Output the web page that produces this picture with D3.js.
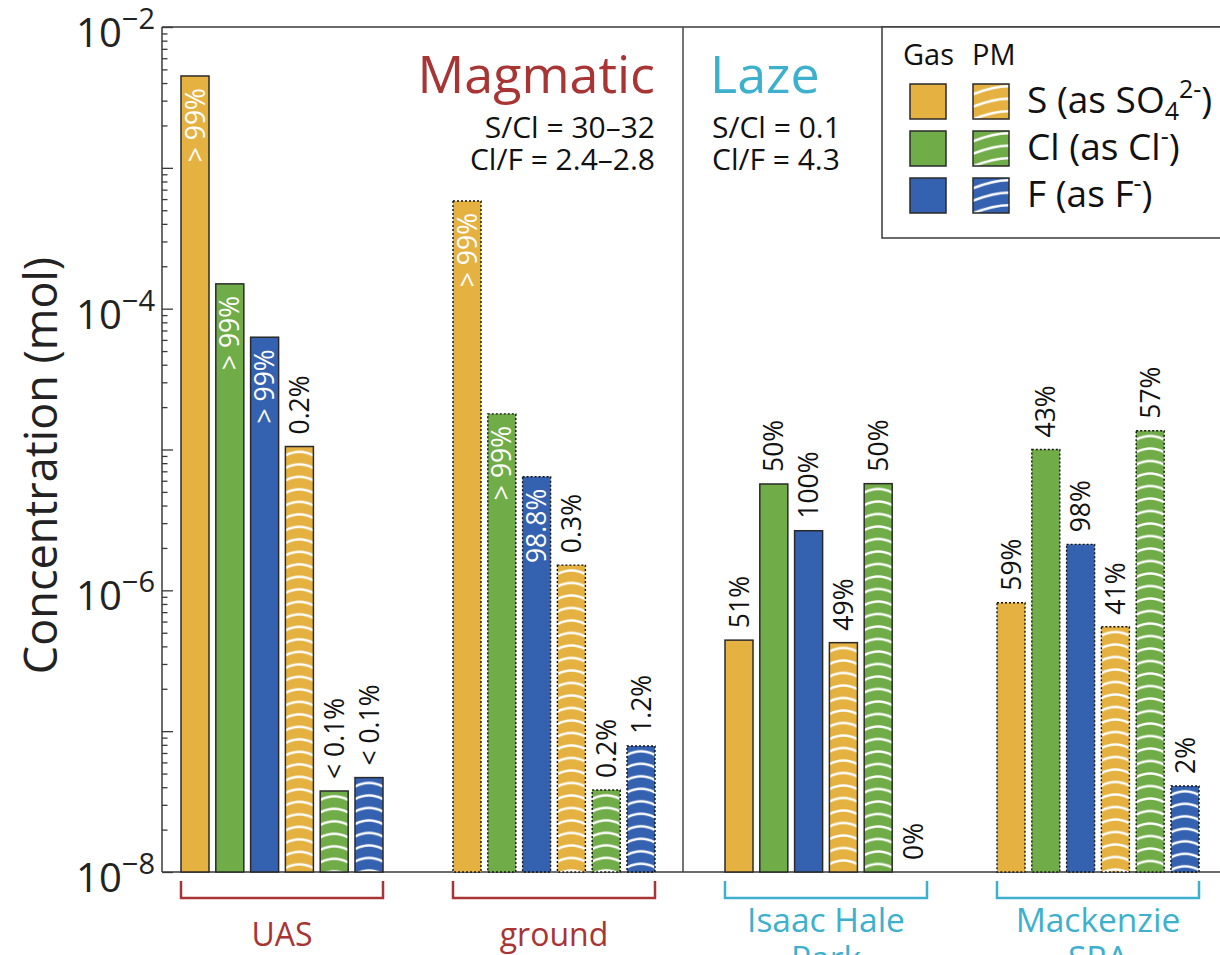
<!DOCTYPE html>
<html><head><meta charset="utf-8">
<script src="https://cdn.jsdelivr.net/npm/d3@7"></script>
<style>
body{margin:0;background:#fff;overflow:hidden;}
svg{display:block;font-family:'Open Sans',sans-serif;}
</style>
</head><body><svg id="c" width="1220" height="955"></svg>
<script>
// ---------- data ----------
const groups = ["UAS", "ground", "Isaac Hale Park", "Mackenzie SRA"];
const groupLines = [["UAS"], ["ground"], ["Isaac Hale", "Park"], ["Mackenzie", "SRA"]];
const groupSource = ["Magmatic", "Magmatic", "Laze", "Laze"];
const groupBorder = ["solid", "dotted", "solid", "dotted"];
const series = ["gasS", "gasCl", "gasF", "pmS", "pmCl", "pmF"];
const seriesPhase = ["gas", "gas", "gas", "pm", "pm", "pm"];
const seriesElement = ["S", "Cl", "F", "S", "Cl", "F"];

const valuesUAS       = [4.49e-3, 1.50e-4, 6.27e-5, 1.05e-5, 3.76e-8, 4.68e-8];
const valuesGround    = [5.82e-4, 1.79e-5, 6.41e-6, 1.51e-6, 3.82e-8, 7.85e-8];
const valuesIsaac     = [4.43e-7, 5.69e-6, 2.65e-6, 4.25e-7, 5.72e-6, 0];
const valuesMackenzie = [8.17e-7, 1.00e-5, 2.12e-6, 5.52e-7, 1.36e-5, 4.08e-8];

const labelsUAS       = ["> 99%", "> 99%", "> 99%", "0.2%", "< 0.1%", "< 0.1%"];
const labelsGround    = ["> 99%", "> 99%", "98.8%", "0.3%", "0.2%", "1.2%"];
const labelsIsaac     = ["51%", "50%", "100%", "49%", "50%", "0%"];
const labelsMackenzie = ["59%", "43%", "98%", "41%", "57%", "2%"];

const insideUAS       = [true, true, true, false, false, false];
const insideGround    = [true, true, true, false, false, false];
const insideIsaac     = [false, false, false, false, false, false];
const insideMackenzie = [false, false, false, false, false, false];

const yDomain = [1e-8, 1e-2];
const yLabelExps = [-8, -6, -4, -2];
const yLabelTexts = ["−8", "−6", "−4", "−2"];

const sourceTitles = ["Magmatic", "Laze"];
const sourceRatios = [["S/Cl = 30–32", "Cl/F = 2.4–2.8"], ["S/Cl = 0.1", "Cl/F = 4.3"]];

const legendRows = ["S", "Cl", "F"];

// ---------- styles ----------
const colors = {S: "#E5B242", Cl: "#70AC47", F: "#3562B0"};
const sourceColor = {Magmatic: "#A83434", Laze: "#3DB0CE"};

const allValues = [valuesUAS, valuesGround, valuesIsaac, valuesMackenzie];
const allLabels = [labelsUAS, labelsGround, labelsIsaac, labelsMackenzie];
const allInside = [insideUAS, insideGround, insideIsaac, insideMackenzie];

const data = groups.flatMap((g, gi) => series.map((s, si) => ({
  group: g, gi, series: s, si,
  value: allValues[gi][si], label: allLabels[gi][si], inside: allInside[gi][si],
  phase: seriesPhase[si], el: seriesElement[si], border: groupBorder[gi]
})));

// ---------- layout ----------
const svg = d3.select("#c");
const L = 162, T = 27, B = 872, R = 1240;

const y = d3.scaleLog().domain(yDomain).range([B, T]);
const x0 = d3.scaleBand().domain(groups).range([181, 1199]).paddingInner(70 / 272).paddingOuter(0);
const x1 = d3.scaleBand().domain(series).range([0, x0.bandwidth()]).paddingInner(0.195).paddingOuter(0);
const bw = x1.bandwidth();

const defs = svg.append("defs");

// frame
const frame = svg.append("g").attr("stroke", "#3a3a3a").attr("stroke-width", 1.5);
frame.append("line").attr("x1", L).attr("x2", R).attr("y1", T).attr("y2", T);
frame.append("line").attr("x1", L).attr("x2", R).attr("y1", B).attr("y2", B);
frame.append("line").attr("x1", L).attr("x2", L).attr("y1", T).attr("y2", B);

// y axis ticks (inward)
const tickVals = [];
for (let e = -8; e < -2; e++) for (let m = 1; m <= 9; m++) tickVals.push(m * Math.pow(10, e));
tickVals.push(1e-2);
const isMajor = v => Math.abs(Math.log10(v) - Math.round(Math.log10(v))) < 1e-9;
const yAxis = d3.axisRight(y).tickValues(tickVals).tickFormat("").tickSizeOuter(0).tickSize(0);
const gy = svg.append("g").attr("transform", `translate(${L},0)`).call(yAxis);
gy.select(".domain").remove();
gy.selectAll(".tick line").attr("x2", d => isMajor(d) ? 11 : 5.5)
  .attr("stroke", "#3a3a3a").attr("stroke-width", 1.3);

// y tick labels
yLabelExps.forEach((e, i) => {
  const t = svg.append("text").attr("x", 155).attr("y", y(Math.pow(10, e)) + 20)
    .attr("text-anchor", "end").attr("fill", "#222").attr("font-size", 40);
  t.append("tspan").text("10");
  t.append("tspan").attr("dy", -18).attr("font-size", 29).text(yLabelTexts[i]);
});

// y axis title
svg.append("text").attr("transform", `translate(57,${(T + B) / 2 + 16}) rotate(-90)`)
  .attr("text-anchor", "middle").attr("font-size", 45).attr("fill", "#222")
  .text("Concentration (mol)");

// patterns & bars
const barG = svg.append("g");
data.forEach(d => {
  if (!(d.value > 0)) return;
  const bx = x0(d.group) + x1(d.series);
  const top = y(d.value);
  let fill = colors[d.el];
  if (d.phase === "pm") {
    const id = `pat-${d.gi}-${d.si}`;
    const p = defs.append("pattern").attr("id", id).attr("patternUnits", "userSpaceOnUse")
      .attr("x", bx).attr("y", top).attr("width", bw).attr("height", 12.5);
    p.append("rect").attr("width", bw).attr("height", 12.5).attr("fill", colors[d.el]);
    p.append("path").attr("d", `M0,9 Q${bw / 2},1.5 ${bw},9`)
      .attr("fill", "none").attr("stroke", "#fff").attr("stroke-width", 2.4);
    fill = `url(#${id})`;
  }
  const r = barG.append("rect").attr("x", bx).attr("y", top).attr("width", bw)
    .attr("height", B - top).attr("fill", fill);
  if (d.border === "solid") {
    r.attr("stroke", "#2a2a2a").attr("stroke-width", 1.5);
  } else {
    r.attr("stroke", "#111").attr("stroke-width", 1.4).attr("stroke-dasharray", "2,2");
  }
});

// bar labels
data.forEach(d => {
  const cx = x0(d.group) + x1(d.series) + bw / 2;
  const top = d.value > 0 ? y(d.value) : B;
  const ty = d.inside ? top + 12 : top - 12;
  svg.append("text").attr("transform", `translate(${cx},${ty}) rotate(-90)`)
    .attr("text-anchor", d.inside ? "end" : "start").attr("dy", "0.36em")
    .attr("font-size", 26.5).attr("fill", d.inside ? "#fff" : "#111")
    .text(d.label);
});

// divider
svg.append("line").attr("x1", 683).attr("x2", 683).attr("y1", T).attr("y2", B)
  .attr("stroke", "#444").attr("stroke-width", 1.5);

// source titles
sourceTitles.forEach((s, i) => {
  const anchor = i === 0 ? "end" : "start";
  const tx = i === 0 ? 655 : 710;
  svg.append("text").attr("x", tx).attr("y", 93).attr("text-anchor", anchor)
    .attr("font-size", 52).attr("fill", sourceColor[s]).text(s);
  sourceRatios[i].forEach((r, j) => {
    svg.append("text").attr("x", i === 0 ? 655 : 712).attr("y", 138 + j * 32)
      .attr("text-anchor", anchor).attr("font-size", 30).attr("fill", "#111").text(r);
  });
});

// brackets & group labels
groups.forEach((g, gi) => {
  const a = x0(g), b = x0(g) + x0.bandwidth();
  const col = sourceColor[groupSource[gi]];
  svg.append("path").attr("d", `M${a},881 V898 H${b} V881`).attr("fill", "none")
    .attr("stroke", col).attr("stroke-width", 2.5);
  const lines = groupLines[gi];
  lines.forEach((ln, li) => {
    const by = lines.length === 1 ? 946 : 932 + li * 38;
    svg.append("text").attr("x", (a + b) / 2).attr("y", by).attr("text-anchor", "middle")
      .attr("font-size", lines.length === 1 ? 32 : 33.5).attr("fill", col).text(ln);
  });
});

// legend
const lg = svg.append("g");
lg.append("rect").attr("x", 882).attr("y", T).attr("width", 400).attr("height", 211)
  .attr("fill", "#fff").attr("stroke", "#3a3a3a").attr("stroke-width", 1.5);
lg.append("text").attr("x", 903).attr("y", 65).attr("font-size", 29).attr("fill", "#111").text("Gas");
lg.append("text").attr("x", 972).attr("y", 65).attr("font-size", 29).attr("fill", "#111").text("PM");
legendRows.forEach((el, i) => {
  const ry = 84 + i * 47;
  lg.append("rect").attr("x", 910).attr("y", ry).attr("width", 36).attr("height", 35)
    .attr("fill", colors[el]).attr("stroke", "#2a2a2a").attr("stroke-width", 1.5);
  const id = `lpat-${i}`;
  const p = defs.append("pattern").attr("id", id).attr("patternUnits", "userSpaceOnUse")
    .attr("x", 973).attr("y", ry).attr("width", 36).attr("height", 12.5);
  p.append("rect").attr("width", 36).attr("height", 12.5).attr("fill", colors[el]);
  p.append("path").attr("d", `M-2,11 Q30,-2 50,4`).attr("fill", "none")
    .attr("stroke", "#fff").attr("stroke-width", 2.4);
  lg.append("rect").attr("x", 973).attr("y", ry).attr("width", 36).attr("height", 35)
    .attr("fill", `url(#${id})`).attr("stroke", "#2a2a2a").attr("stroke-width", 1.5);
  const t = lg.append("text").attr("x", 1027).attr("y", ry + 29).attr("font-size", 37).attr("fill", "#111");
  if (el === "S") {
    t.append("tspan").text("S (as SO");
    t.append("tspan").attr("font-size", 25).attr("dy", 7).text("4");
    t.append("tspan").attr("font-size", 25).attr("dy", -22).text("2-");
    t.append("tspan").attr("dy", 15).text(")");
  } else if (el === "Cl") {
    t.append("tspan").text("Cl (as Cl");
    t.append("tspan").attr("font-size", 25).attr("dy", -15).text("-");
    t.append("tspan").attr("dy", 15).text(")");
  } else {
    t.append("tspan").text("F (as F");
    t.append("tspan").attr("font-size", 25).attr("dy", -15).text("-");
    t.append("tspan").attr("dy", 15).text(")");
  }
});
</script>
</body></html>
